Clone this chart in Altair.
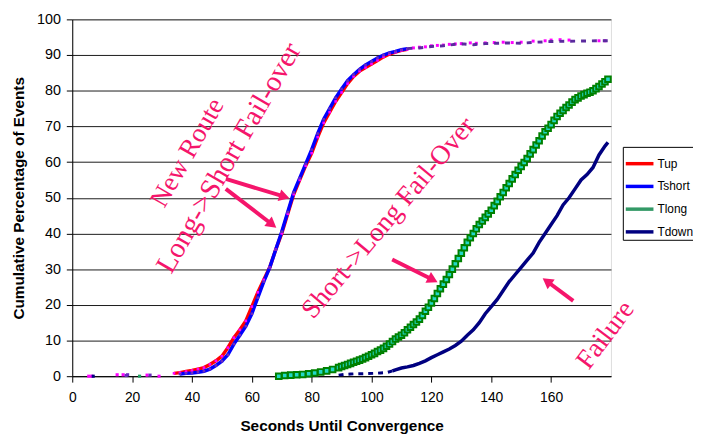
import altair as alt
import pandas as pd

# ---------------- data ----------------
series_names = ["Tup", "Tshort", "Tlong", "Tdown"]
series_colors = ["#FF0000", "#0000FF", "#339966", "#000080"]

tup_x = [34, 36, 38, 40, 42, 44, 46, 48, 50, 52, 54, 56, 58, 60, 62, 64, 66, 68, 70, 72,
         74, 76, 78, 80, 82, 84, 86, 88, 90, 92, 94, 96, 98, 100, 102, 104, 106, 108, 110, 112]
tup_y = [0.8, 1.0, 1.3, 1.6, 2.0, 2.4, 3.3, 4.3, 5.6, 8.0, 10.8, 13.0, 15.5, 19.5, 23.5, 27.0,
         30.5, 35.5, 40.0, 45.5, 51.0, 55.0, 59.0, 62.5, 67.0, 71.0, 74.0, 77.0, 79.5, 82.0,
         84.0, 85.5, 86.5, 87.5, 88.5, 89.5, 90.3, 90.8, 91.3, 91.6]

tshort_x = [36, 38, 40, 42, 44, 46, 48, 50, 52, 54, 56, 58, 60, 62, 64, 66, 68, 70, 72, 74,
            76, 78, 80, 82, 84, 86, 88, 90, 92, 94, 96, 98, 100, 102, 104, 106, 108, 110, 112]
tshort_y = [0.6, 0.8, 0.9, 1.1, 1.4, 2.0, 3.0, 4.2, 6.0, 9.0, 11.5, 14.0, 17.5, 22.0, 26.5,
            30.5, 35.5, 40.5, 46.0, 51.5, 55.5, 59.5, 63.5, 68.0, 72.0, 75.0, 78.0, 80.5, 82.8,
            84.5, 86.0, 87.2, 88.2, 89.2, 90.0, 90.6, 91.0, 91.5, 91.8]

tlong_x = [69, 71, 73, 75, 77, 79, 81, 83, 85, 87, 89,
           90, 91, 92, 93, 94, 95, 96, 97, 98, 99, 100, 101, 102, 103, 104, 105, 106, 107, 108, 109,
           110, 111, 112, 113, 114, 115, 116, 117, 118, 119, 120, 121, 122, 123, 124, 125, 126, 127,
           128, 129, 130, 131, 132, 133, 134, 135, 136, 137, 138, 139, 140, 141, 142, 143, 144, 145,
           146, 147, 148, 149, 150, 151, 152, 153, 154, 155, 156, 157, 158, 159, 160, 161, 162, 163,
           164, 165, 166, 167, 168, 169, 170, 171, 172, 173, 174, 175, 176, 177, 178, 179]
tlong_y = [0.0, 0.2, 0.3, 0.4, 0.5, 0.7, 0.9, 1.2, 1.5, 1.9, 2.4,
           2.7, 3.0, 3.3, 3.6, 3.9, 4.2, 4.5, 4.8, 5.2, 5.6, 6.0, 6.4, 6.9, 7.3, 7.8, 8.4, 9.0, 9.7,
           10.4, 11.0, 11.5, 12.2, 13.0, 13.7, 14.5, 15.2, 16.0, 17.0, 18.2, 19.3, 20.5, 21.8, 23.2,
           24.5, 25.8, 27.1, 28.5, 30.0, 31.5, 33.0, 34.5, 36.0, 37.5, 38.8, 40.0, 41.3, 42.5, 43.5,
           44.5, 45.5, 46.5, 47.8, 49.0, 50.3, 51.5, 52.8, 54.0, 55.3, 56.5, 57.7, 58.8, 59.9, 61.0,
           62.3, 63.5, 64.8, 66.0, 67.3, 68.5, 69.5, 70.5, 71.7, 72.8, 73.7, 74.5, 75.3, 76.0, 76.8,
           77.5, 78.0, 78.5, 78.9, 79.3, 79.6, 80.0, 80.6, 81.2, 81.9, 82.5, 83.2]

tdown_x = [107, 108, 110, 112, 114, 116, 118, 120, 122, 124, 126, 128, 130, 132, 134, 136, 138,
           140, 142, 144, 146, 148, 150, 152, 154, 156, 158, 160, 162, 164, 166, 168, 170, 172,
           174, 176, 178, 179]
tdown_y = [1.5, 1.8, 2.3, 2.6, 3.0, 3.6, 4.3, 5.2, 6.0, 6.8, 7.6, 8.6, 9.8, 11.5, 13.0, 15.0,
           17.5, 19.5, 21.5, 24.0, 26.5, 28.5, 30.5, 32.5, 34.5, 37.5, 40.0, 42.5, 45.0, 48.0,
           50.0, 52.5, 55.0, 56.5, 58.5, 62.0, 64.5, 65.5]

# sparse (dotted-looking) parts of the series
tup_tail_x = [114, 116, 118, 120, 122, 124, 126, 128, 130, 133, 135, 138, 141, 144, 147, 150,
              154, 158, 160, 163, 166, 176, 178]
tup_tail_y = [92.0, 92.2, 92.3, 92.6, 92.7, 92.8, 93.0, 93.1, 93.2, 93.4, 93.3, 93.4, 93.5,
              93.6, 93.5, 93.6, 93.9, 94.0, 94.2, 94.3, 94.2, 94.0, 94.0]
tshort_tail_x = [112, 116, 120, 124, 128, 131, 134, 138, 142, 146, 150, 155, 160, 176, 179]
tshort_tail_y = [91.8, 92.0, 92.4, 92.6, 93.0, 93.1, 92.9, 93.2, 93.3, 93.4, 93.3, 93.6, 93.8,
                 94.0, 94.0]
tdown_head_x = [89, 91, 93, 95, 97, 101, 103, 105, 107]
tdown_head_y = [0.3, 0.5, 0.6, 0.7, 0.7, 0.8, 0.9, 1.0, 1.5]

early_x = [5.5, 6.5, 15, 17, 25, 29, 7, 18, 18.5, 26, 22.5]
early_y = [0.0, 0.0, 0.4, 0.4, 0.3, 0.0, 0.0, 0.2, 0.4, 0.3, 0.0]
early_kind = ["Tup", "Tup", "Tup", "Tup", "Tup", "Tup", "Tdown", "Tshort", "Tshort", "Tshort", "Tlong"]

# annotations
note_text = ["New Route", "Long->Short Fail-over", "Short->Long Fail-Over", "Failure"]
note_x = [38.5, 52.3, 105.7, 178.2]
note_y = [62.6, 61.2, 44.3, 11.5]
note_angle = [300, 300, 310, 307]
note_size = [27, 29, 27.5, 27.5]

arrow_x = [51.3, 51.3, 106.9, 167.4]
arrow_y = [55.3, 52.5, 32.7, 21.1]
arrow_x2 = [70.9, 66.8, 120.5, 158.6]
arrow_y2 = [50.3, 42.5, 27.0, 26.6]
arrow_angle = [107, 128, 117, 306]

PINK = "#F5156B"
FONT = "Liberation Sans"
X_TITLE = "Seconds Until Convergence"
Y_TITLE = "Cumulative Percentage of Events"

# ---------------- tables ----------------
rows = []
for name, xs, ys in [("Tup", tup_x, tup_y), ("Tshort", tshort_x, tshort_y),
                     ("Tlong", tlong_x, tlong_y), ("Tdown", tdown_x, tdown_y)]:
    for a, b in zip(xs, ys):
        rows.append({"series": name, "x": a, "y": b})
main_df = pd.DataFrame(rows)

tlong_df = pd.DataFrame({"x": tlong_x, "y": tlong_y})
tup_df = pd.DataFrame({"x": tup_x, "y": tup_y})
tshort_df = pd.DataFrame({"x": tshort_x, "y": tshort_y})
tup_tail_df = pd.DataFrame({"x": tup_tail_x, "y": tup_tail_y})
tshort_tail_df = pd.DataFrame({"x": tshort_tail_x, "y": tshort_tail_y})
tdown_head_df = pd.DataFrame({"x": tdown_head_x, "y": tdown_head_y})
early_df = pd.DataFrame({"x": early_x, "y": early_y, "kind": early_kind})
notes_df = pd.DataFrame({"x": note_x, "y": note_y, "text": note_text, "angle": note_angle,
                         "size": note_size})
arrows_df = pd.DataFrame({"x": arrow_x, "y": arrow_y, "x2": arrow_x2, "y2": arrow_y2,
                          "angle": arrow_angle})

# ---------------- scales / axes ----------------
xscale = alt.Scale(domain=[0, 180], nice=False, zero=False)
yscale = alt.Scale(domain=[0, 100], nice=False, zero=False)

xaxis = alt.Axis(values=[0, 20, 40, 60, 80, 100, 120, 140, 160], tickCount=20, grid=False,
                 domainColor="black", domainWidth=1, tickColor="black", tickSize=6,
                 tickWidth=1, labelOverlap=False, labelFlush=False,
                 labelFont=FONT, labelFontSize=14, labelColor="black", labelPadding=9,
                 titleFont=FONT, titleFontSize=15.5, titleFontWeight="bold",
                 titleColor="black", titleY=55, titleBaseline="alphabetic")
yaxis = alt.Axis(values=[0, 10, 20, 30, 40, 50, 60, 70, 80, 90, 100], tickCount=20,
                 grid=True, gridColor="#1a1a1a",
                 gridWidth=1, domainColor="black", domainWidth=1, tickColor="black",
                 tickSize=6, tickWidth=1, labelOverlap=False, labelFlush=False,
                 labelFont=FONT, labelFontSize=14.5,
                 labelColor="black", labelPadding=6, titleFont=FONT, titleFontSize=15.5,
                 titleFontWeight="bold", titleColor="black", titleAngle=270,
                 titleX=-54, titleY=180.5, titleAlign="center", titleBaseline="middle")


def X(field):
    return alt.X(field, type="quantitative", scale=xscale, axis=xaxis, title=X_TITLE)


def Y(field):
    return alt.Y(field, type="quantitative", scale=yscale, axis=yaxis, title=Y_TITLE)


legend = alt.Legend(title=None, orient="none", legendX=557, legendY=129,
                    direction="vertical", symbolType="stroke", symbolSize=784,
                    symbolStrokeWidth=3.5, rowPadding=-5,
                    labelFont=FONT, labelFontSize=12, labelColor="black",
                    labelOffset=2, strokeColor="black", fillColor="white",
                    padding=1, symbolOpacity=1)

lines = alt.Chart(main_df).mark_line(strokeWidth=3.5).encode(
    x=X("x"), y=Y("y"),
    color=alt.Color("series:N", scale=alt.Scale(domain=series_names, range=series_colors),
                    legend=legend, sort=series_names),
    order=alt.Order("x:Q"),
)

tup_pts = alt.Chart(tup_df).mark_point(shape="square", size=7, filled=True,
                                       color="#FF00FF", opacity=1).encode(x=X("x"), y=Y("y"))
tshort_pts = alt.Chart(tshort_df).mark_point(shape="square", size=7, filled=True,
                                             color="#6A2BC0", opacity=1).encode(x=X("x"), y=Y("y"))

tlong_pts = alt.Chart(tlong_df).mark_point(shape="square", size=32, filled=True,
                                           fill="#22D8C8", stroke="#008000",
                                           strokeWidth=2, opacity=1).encode(x=X("x"), y=Y("y"))

tup_tail = alt.Chart(tup_tail_df).mark_point(shape="square", size=9, filled=True,
                                             color="#FF00FF", opacity=1).encode(x=X("x"), y=Y("y"))
tshort_tail = alt.Chart(tshort_tail_df).mark_line(strokeWidth=3, strokeDash=[5, 6],
                                                  color="#5B2A9E").encode(x=X("x"), y=Y("y"))
tdown_head = alt.Chart(tdown_head_df).mark_line(strokeWidth=3, strokeDash=[5, 5],
                                                color="#000080").encode(x=X("x"), y=Y("y"))

early = alt.Chart(early_df).mark_point(shape="square", size=10, filled=True, opacity=1).encode(
    x=X("x"), y=Y("y"),
    fill=alt.Fill("kind:N", scale=alt.Scale(domain=series_names,
                                            range=["#FF00FF", "#6A2BC0", "#1FA060", "#000080"]),
                  legend=None),
)

arrow_lines = alt.Chart(arrows_df).mark_rule(strokeWidth=4, color=PINK).encode(
    x=X("x"), y=Y("y"), x2="x2:Q", y2="y2:Q")
arrow_heads = alt.Chart(arrows_df).mark_point(shape="triangle-up", size=150, filled=True,
                                              color=PINK, opacity=1).encode(
    x=X("x2"), y=Y("y2"), angle=alt.Angle("angle:Q", scale=None))

notes = alt.Chart(notes_df).mark_text(font="Liberation Serif", color=PINK,
                                      align="center", baseline="middle").encode(
    x=X("x"), y=Y("y"), text="text:N", angle=alt.Angle("angle:Q", scale=None),
    size=alt.Size("size:Q", scale=None, legend=None))

chart = alt.layer(
    lines, tup_pts, tshort_pts, tlong_pts, tup_tail, tshort_tail, tdown_head, early,
    arrow_lines, arrow_heads, notes
).properties(
    width=545, height=361,
    autosize=alt.AutoSizeParams(type="none"),
    padding={"left": 65, "top": 9, "right": 83, "bottom": 58},
).configure_view(stroke=None).configure(background="white")

chart.save("out.html", embed_options={"renderer": "svg", "actions": False})
